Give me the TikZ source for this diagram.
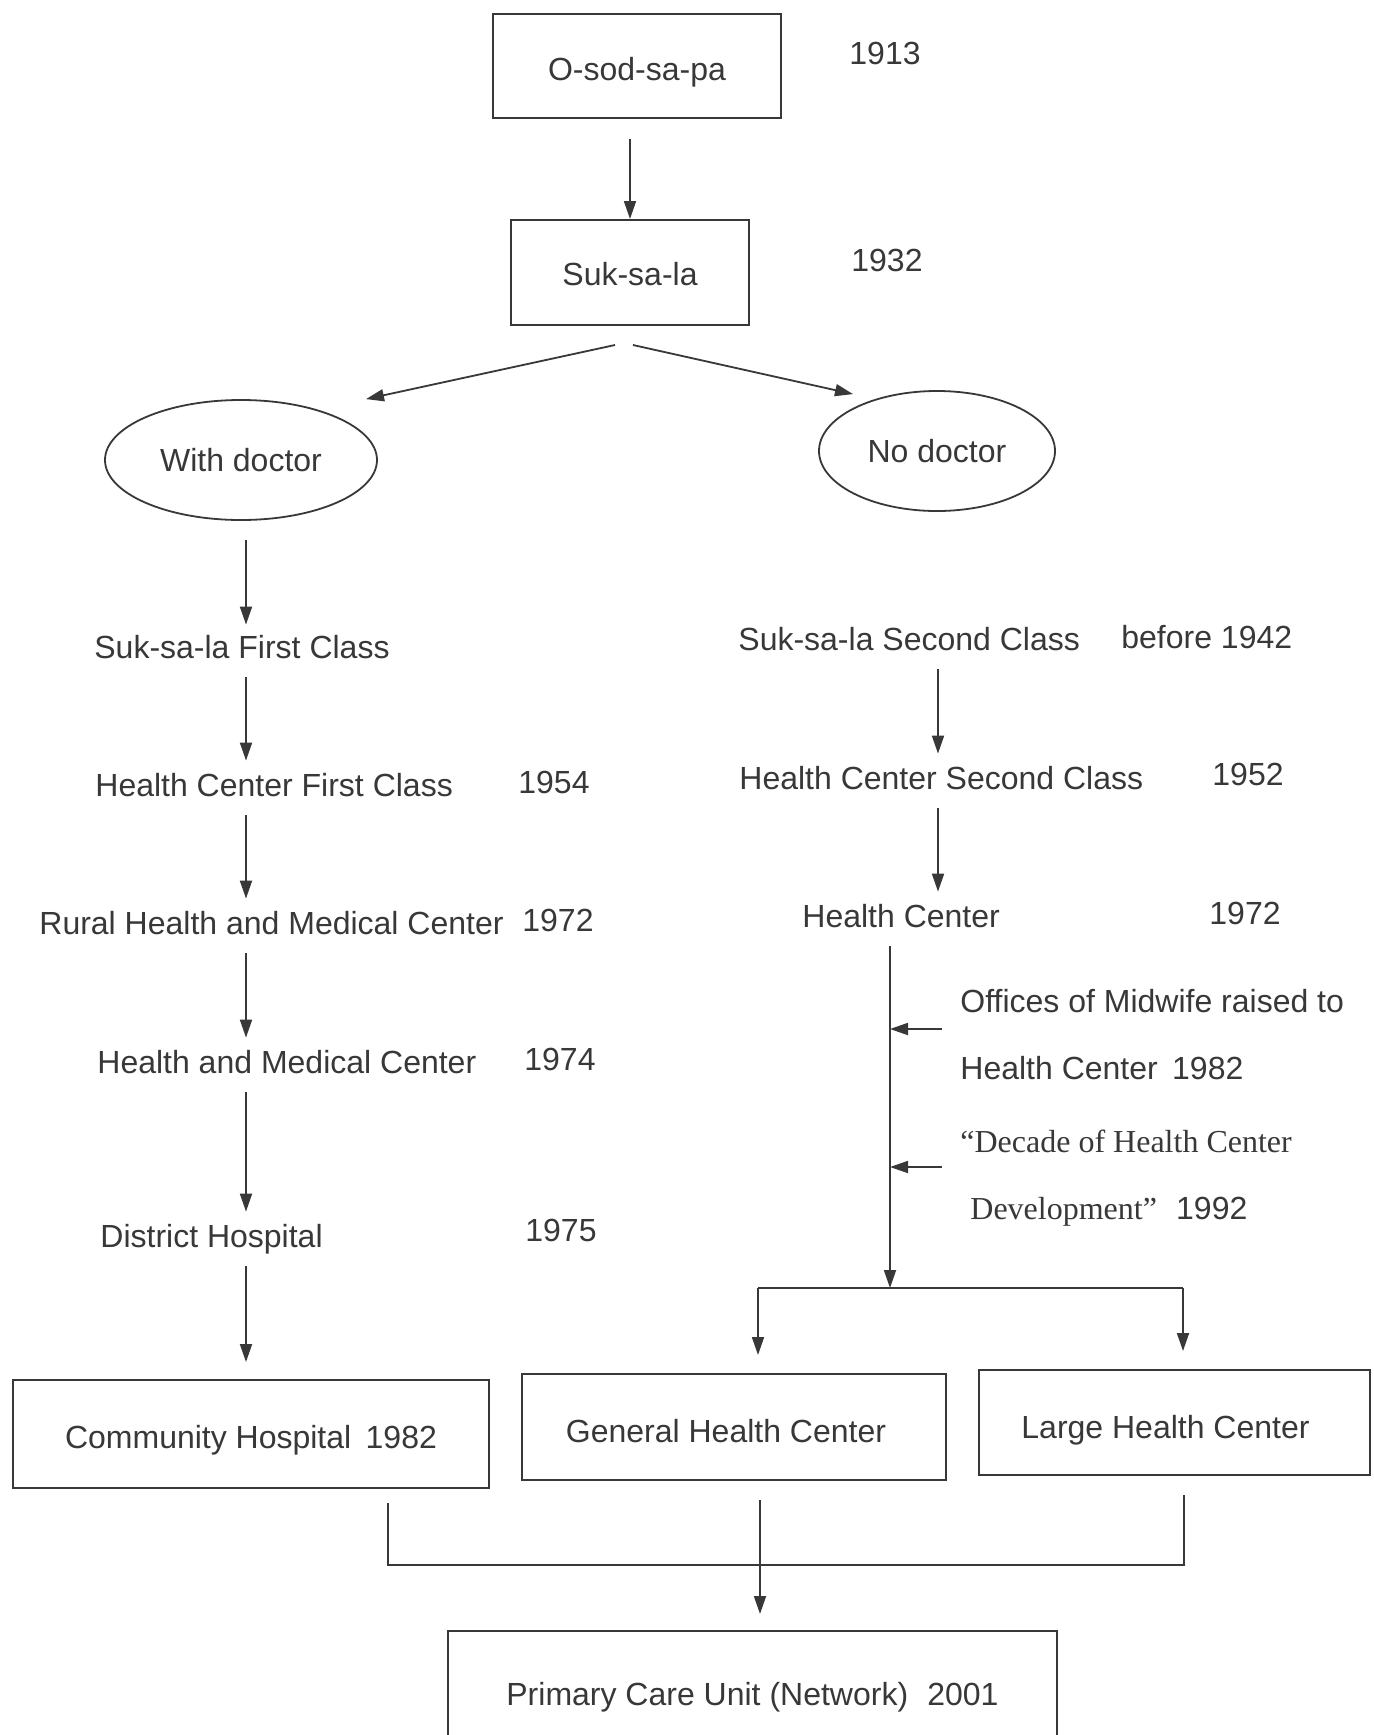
\documentclass[tikz,border=0pt]{standalone}
\usepackage{fontspec}
\setmainfont{Liberation Sans}
\newfontfamily\serifx{Liberation Serif}
\usetikzlibrary{arrows.meta,shapes.geometric}
\begin{document}
\begin{tikzpicture}[x=0.5pt,y=-0.5pt,
  font=\fontsize{16pt}{19pt}\selectfont,
  every node/.style={text=black!78},
  ln/.style={draw=black!78, line width=0.9pt},
  arr/.style={ln, -{Triangle[length=9pt,width=6pt]}},
  box/.style={draw=black!78, line width=1pt, rectangle, inner sep=0pt, text depth=0pt},
  oval/.style={draw=black!78, line width=0.9pt, ellipse, inner sep=0pt},
  txt/.style={anchor=base west, inner sep=0pt, text height=11pt, text depth=3pt},
  yr/.style={anchor=base, inner sep=0pt, text height=11pt, text depth=3pt}]
\useasboundingbox (0,0) rectangle (1374,1735);
\clip (0,0) rectangle (1374,1735);
\fill[white] (0,0) rectangle (1374,1735);

% top
\node[box, minimum width=144pt, minimum height=52pt, text height=14.7pt] (osod) at (637,66) {O-sod-sa-pa};
\node[yr] (y1913) at (885,64) {1913};
\node[box, minimum width=119pt, minimum height=52.5pt, text height=12.9pt] (suk) at (630,272.5) {Suk-sa-la};
\node[yr] (y1932) at (887,271) {1932};
\node[oval, minimum width=136pt, minimum height=60pt] (wd) at (241,460) {With doctor};
\node[oval, minimum width=118pt, minimum height=60pt] (nd) at (937,451) {No doctor};

% left column
\node[txt] (sfc) at (94,658) {Suk-sa-la First Class};
\node[txt] (hcf) at (95,796) {Health Center First Class};
\node[yr] (y1954) at (554,793) {1954};
\node[txt] (rhmc) at (39,934) {Rural Health and Medical Center};
\node[yr] (y1972a) at (558,931) {1972};
\node[txt] (hmc) at (97,1073) {Health and Medical Center};
\node[yr] (y1974) at (560,1070) {1974};
\node[txt] (dh) at (100,1247) {District Hospital};
\node[yr] (y1975) at (561,1241) {1975};

% right column
\node[txt] (ssc) at (738,650) {Suk-sa-la Second Class};
\node[txt] (b1942) at (1121,648) {before 1942};
\node[txt] (hcsc) at (739,789) {Health Center Second Class};
\node[yr] (y1952) at (1248,785) {1952};
\node[txt] (hc) at (802,927) {Health Center};
\node[yr] (y1972b) at (1245,924) {1972};
\node[txt] (off1) at (960,1012) {Offices of Midwife raised to};
\node[txt] (off2) at (960,1079) {Health Center\hspace{0.45em}1982};
\node[txt] (dec1) at (960,1152) {{\serifx “Decade of Health Center}};
\node[txt] (dec2) at (970,1219) {{\serifx Development”}\hspace{0.6em}1992};

% bottom boxes
\node[box, minimum width=238pt, minimum height=54pt, text height=14pt] (comm) at (251,1434) {Community Hospital\hspace{0.45em}1982};
\node[box, minimum width=212pt, minimum height=53pt, text height=15.6pt] (gen) at (734,1427) {General Health Center\hspace*{8pt}};
\node[box, minimum width=195.5pt, minimum height=52.5pt, text height=15.6pt] (large) at (1174.5,1422.5) {Large Health Center\hspace*{9pt}};
\node[box, minimum width=304.5pt, minimum height=64.5pt, text height=9.5pt] (pcu) at (752.5,1695.5) {Primary Care Unit (Network)\hspace{0.6em}2001};

% coordinates
\coordinate (L) at (246,0);
\coordinate (R) at (938,0);
\coordinate (split) at (890,1288);
\coordinate (sl) at (758,1288);
\coordinate (sr) at (1183,1288);
\coordinate (ml) at (388,1565);
\coordinate (mr) at (1184,1565);
\coordinate (mid) at (760,0);
\coordinate (a1) at (890,1029);
\coordinate (a2) at (890,1167);

% connectors top
\draw[arr, shorten <=10pt] (osod.south -| suk.north) -- (suk.north);
\draw[arr] ([shift={(-15,19)}]suk.south) -- ([shift={(125,0)}]wd.north);
\draw[arr] ([shift={(3,19)}]suk.south) -- ([shift={(-84,4)}]nd.north);

% left chain
\draw[arr, shorten <=9.5pt, shorten >=5.5pt] (L |- wd.south) -- (L |- sfc.north);
\draw[arr, shorten <=6.5pt, shorten >=6.5pt] (L |- sfc.south) -- (L |- hcf.north);
\draw[arr, shorten <=6.5pt, shorten >=6.5pt] (L |- hcf.south) -- (L |- rhmc.north);
\draw[arr, shorten <=6.5pt, shorten >=6.5pt] (L |- rhmc.south) -- (L |- hmc.north);
\draw[arr, shorten <=6.5pt, shorten >=6.5pt] (L |- hmc.south) -- (L |- dh.north);
\draw[arr, shorten <=6.5pt, shorten >=8.5pt] (L |- dh.south) -- (L |- comm.north);

% right chain
\draw[arr, shorten <=6.5pt, shorten >=6.5pt] (R |- ssc.south) -- (R |- hcsc.north);
\draw[arr, shorten <=6.5pt, shorten >=6.5pt] (R |- hcsc.south) -- (R |- hc.north);
\draw[arr, shorten <=6.5pt] (split |- hc.south) -- (split);
\draw[arr] ([xshift=26pt]a1) -- (a1);
\draw[arr] ([xshift=26pt]a2) -- (a2);
\draw[ln] (sl) -- (sr);
\draw[arr, shorten >=9pt] (sl) -- (sl |- gen.north);
\draw[arr, shorten >=9pt] (sr) -- (sr |- large.north);

% merge
\draw[ln, shorten <=7pt, shorten >=9.5pt] (ml |- comm.south) -- (ml) -- (mr) -- (mr |- large.south);
\draw[arr, shorten <=9.5pt, shorten >=8pt] (mid |- gen.south) -- (mid |- pcu.north);
\end{tikzpicture}
\end{document}
